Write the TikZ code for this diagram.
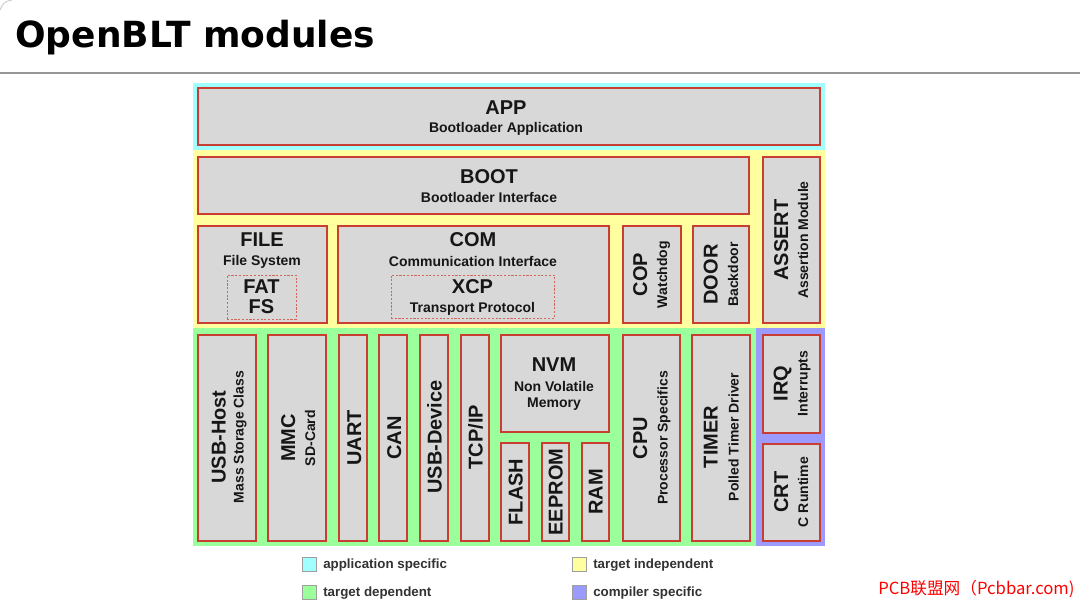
\documentclass[tikz,border=0pt]{standalone}
\usepackage{fontspec}
\setmainfont{Liberation Sans}
\newfontfamily\titlefont{DejaVu Sans}
\newfontfamily\cjkfont{Noto Sans CJK SC}
\usetikzlibrary{fit}
\definecolor{cyanreg}{RGB}{160,255,255}
\definecolor{yellowreg}{RGB}{255,255,160}
\definecolor{greenreg}{RGB}{155,255,155}
\definecolor{purplereg}{RGB}{155,155,255}
\definecolor{boxgray}{RGB}{216,216,216}
\definecolor{boxred}{RGB}{200,62,50}
\definecolor{txt}{RGB}{22,22,22}
\definecolor{legtxtc}{RGB}{50,50,50}
\definecolor{titleline}{RGB}{150,150,150}
\newcommand\bigf{\fontsize{15}{18}\selectfont\bfseries}
\newcommand\smallf{\fontsize{10.5}{12.5}\selectfont\bfseries}
\newcommand\legf{\fontsize{10}{12}\selectfont\bfseries}
\tikzset{
  region/.style={draw=none, inner sep=0pt, outer sep=0pt},
  box/.style={draw=boxred, fill=boxgray, line width=1.1pt, inner sep=0pt, outer sep=0pt},
  dbox/.style={draw=boxred!80, dash pattern=on 1.6pt off 1.2pt, line width=0.7pt, inner sep=0pt},
  big/.style={font=\bigf, text=txt, inner sep=0pt, anchor=base},
  small/.style={font=\smallf, text=txt, inner sep=0pt, anchor=base},
  vbig/.style={big, rotate=90},
  vsmall/.style={small, rotate=90},
  legsq/.style={draw=gray!75, line width=0.6pt, inner sep=0pt},
  legtxt/.style={font=\legf, text=legtxtc, inner sep=0pt, anchor=base west},
}
\begin{document}
\begin{tikzpicture}[x=0.75pt,y=-0.75pt]
\useasboundingbox (0,0) rectangle (1080,602);
\fill[white] (0,0) rectangle (1080,602);
% title
\draw[gray!45, line width=0.6pt] (0,10) .. controls (2,4) and (5,1) .. (12,0);
\node[anchor=base west, inner sep=0pt, font=\titlefont\bfseries\fontsize{27}{32}\selectfont, text=black] (title) at (15,48) {OpenBLT modules};
\draw[titleline, line width=1.5pt] (0,73) -- (1080,73);
% regions
\node[region, fill=cyanreg, fit={(193,83)(825,150)}] (rapp) {};
\node[region, fill=yellowreg, fit={(193,150)(825,328)}] (rind) {};
\node[region, fill=greenreg, fit={(193,328)(756,546)}] (rdep) {};
\node[region, fill=purplereg, fit={(756,328)(825,546)}] (rcomp) {};
% boxes
\node[box, fit={(198,88)(820,145)}] (app) {};
\node[big] (app-t) at (506,114.5) {APP};
\node[small] (app-s) at (506,133) {Bootloader Application};

\node[box, fit={(198,157)(749,214)}] (boot) {};
\node[big] (boot-t) at (489,183.5) {BOOT};
\node[small] (boot-s) at (489,202.5) {Bootloader Interface};

\node[box, fit={(763,157)(820,323)}] (assert) {};
\node[vbig] (assert-t) at (788,240) {ASSERT};
\node[vsmall] (assert-s) at (808,240) {Assertion Module};

\node[box, fit={(198,226)(327,323)}] (file) {};
\node[big] (file-t) at (262,246) {FILE};
\node[small] (file-s) at (262,265.5) {File System};
\node[dbox, fit={(227,275)(296,319)}] (fatfs) {};
\node[big] (fat-t) at (261.5,293) {FAT};
\node[big] (fs-t) at (261.5,313.5) {FS};

\node[box, fit={(338,226)(609,323)}] (com) {};
\node[big] (com-t) at (473,247) {COM};
\node[small] (com-s) at (473,266.5) {Communication Interface};
\node[dbox, fit={(391,275)(554,318)}] (xcp) {};
\node[big] (xcp-t) at (472.5,293) {XCP};
\node[small] (xcp-s) at (472.5,312.5) {Transport Protocol};

\node[box, fit={(623,226)(681,323)}] (cop) {};
\node[vbig] (cop-t) at (647,274.5) {COP};
\node[vsmall] (cop-s) at (667,274.5) {Watchdog};

\node[box, fit={(693,226)(749,323)}] (door) {};
\node[vbig] (door-t) at (717.5,274.5) {DOOR};
\node[vsmall] (door-s) at (738,274.5) {Backdoor};

\node[box, fit={(198,335)(256,541)}] (usbh) {};
\node[vbig] (usbh-t) at (225.5,437) {USB-Host};
\node[vsmall] (usbh-s) at (243.5,437) {Mass Storage Class};

\node[box, fit={(268,335)(326,541)}] (mmc) {};
\node[vbig] (mmc-t) at (295,438) {MMC};
\node[vsmall] (mmc-s) at (315,438) {SD-Card};

\node[box, fit={(339,335)(367,541)}] (uart) {};
\node[vbig] (uart-t) at (361,438) {UART};
\node[box, fit={(379,335)(407,541)}] (can) {};
\node[vbig] (can-t) at (401,438) {CAN};
\node[box, fit={(420,335)(448,541)}] (usbd) {};
\node[vbig] (usbd-t) at (441.5,437) {USB-Device};
\node[box, fit={(461,335)(489,541)}] (tcp) {};
\node[vbig] (tcp-t) at (482.5,437) {TCP/IP};

\node[box, fit={(501,335)(609,432)}] (nvm) {};
\node[big] (nvm-t) at (554,371) {NVM};
\node[small] (nvm-s1) at (554,391.5) {Non Volatile};
\node[small] (nvm-s2) at (554,407.5) {Memory};

\node[box, fit={(501,443)(529,541)}] (flash) {};
\node[vbig] (flash-t) at (522.5,492) {FLASH};
\node[box, fit={(542,443)(569,541)}] (eeprom) {};
\node[vbig] (eeprom-t) at (562.5,492) {EEPROM};
\node[box, fit={(582,443)(609,541)}] (ram) {};
\node[vbig] (ram-t) at (602.5,492) {RAM};

\node[box, fit={(623,335)(680,541)}] (cpu) {};
\node[vbig] (cpu-t) at (647,438) {CPU};
\node[vsmall] (cpu-s) at (667.5,438) {Processor Specifics};

\node[box, fit={(692,335)(750,541)}] (timer) {};
\node[vbig] (timer-t) at (717.5,437) {TIMER};
\node[vsmall] (timer-s) at (738.5,437) {Polled Timer Driver};

\node[box, fit={(763,335)(820,433)}] (irq) {};
\node[vbig] (irq-t) at (787.5,383.5) {IRQ};
\node[vsmall] (irq-s) at (807.5,383.5) {Interrupts};

\node[box, fit={(763,444)(820,541)}] (crt) {};
\node[vbig] (crt-t) at (788,492) {CRT};
\node[vsmall] (crt-s) at (808,492) {C Runtime};

% legend
\node[legsq, fill=cyanreg, fit={(302,557)(316,571)}] (lg1) {};
\node[legtxt] (lg1-t) at (323,568) {application specific};
\node[legsq, fill=greenreg, fit={(302,585)(316,599)}] (lg2) {};
\node[legtxt] (lg2-t) at (323,596.5) {target dependent};
\node[legsq, fill=yellowreg, fit={(572,557)(586,571)}] (lg3) {};
\node[legtxt] (lg3-t) at (593,568) {target independent};
\node[legsq, fill=purplereg, fit={(572,585)(586,599)}] (lg4) {};
\node[legtxt] (lg4-t) at (593,596.5) {compiler specific};

% watermark
\node[anchor=base west, inner sep=0pt, text=red, font=\cjkfont\fontsize{12.5}{15}\selectfont] (wm) at (878,594.5) {PCB联盟网（Pcbbar.com)};
\end{tikzpicture}
\end{document}
